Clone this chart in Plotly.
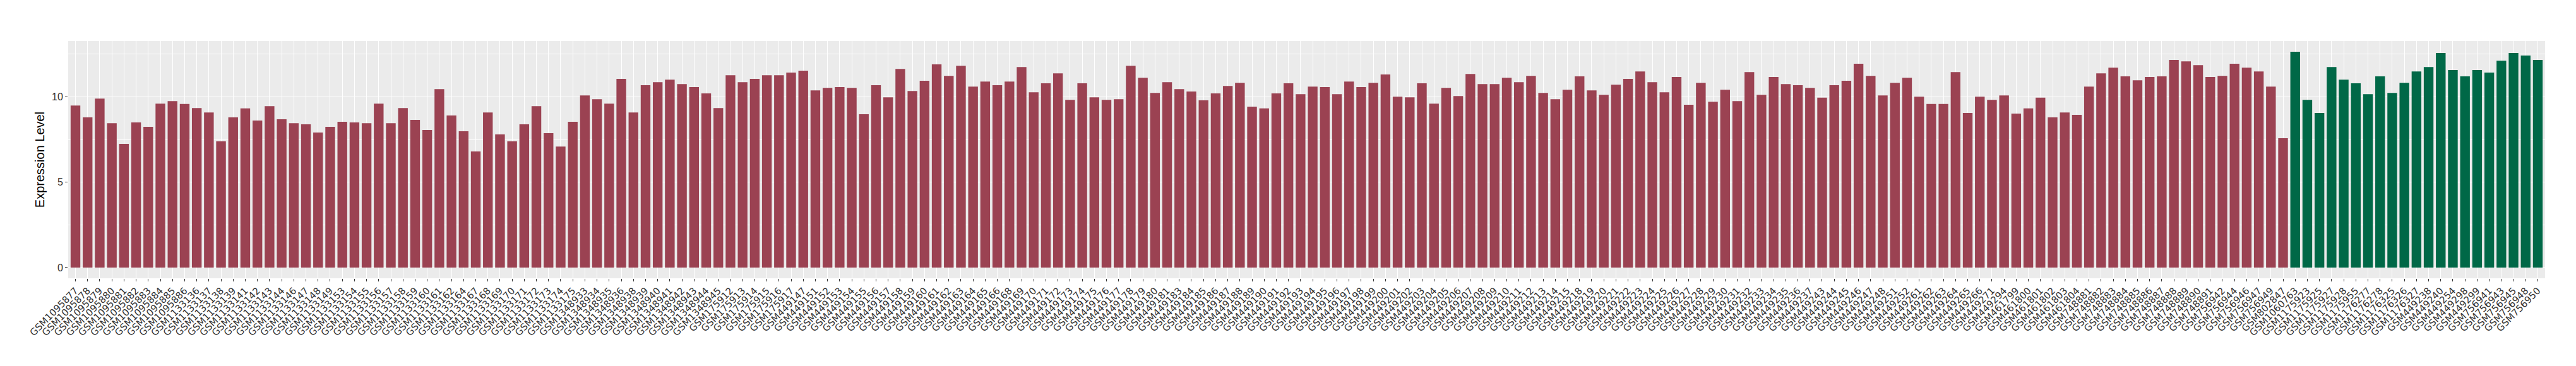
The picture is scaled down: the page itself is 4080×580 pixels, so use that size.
import plotly.graph_objects as go

# Sample IDs and expression levels
tumor_samples = [
    "GSM1095877", "GSM1095878", "GSM1095879", "GSM1095880", "GSM1095881",
    "GSM1095882", "GSM1095883", "GSM1095884", "GSM1095885", "GSM1095886",
    "GSM1133136", "GSM1133137", "GSM1133138", "GSM1133139", "GSM1133141",
    "GSM1133142", "GSM1133143", "GSM1133144", "GSM1133146", "GSM1133147",
    "GSM1133148", "GSM1133149", "GSM1133153", "GSM1133154", "GSM1133155",
    "GSM1133156", "GSM1133157", "GSM1133158", "GSM1133159", "GSM1133160",
    "GSM1133161", "GSM1133162", "GSM1133164", "GSM1133167", "GSM1133168",
    "GSM1133169", "GSM1133170", "GSM1133171", "GSM1133172", "GSM1133173",
    "GSM1133174", "GSM1133175",
    "GSM1348933", "GSM1348934", "GSM1348935", "GSM1348936", "GSM1348938",
    "GSM1348939", "GSM1348940", "GSM1348941", "GSM1348942", "GSM1348943",
    "GSM1348944", "GSM1348945",
    "GSM175912", "GSM175913", "GSM175914", "GSM175915", "GSM175916", "GSM175917",
    "GSM449147", "GSM449151", "GSM449152", "GSM449153", "GSM449154",
    "GSM449155", "GSM449156", "GSM449157", "GSM449158", "GSM449159",
    "GSM449160", "GSM449161", "GSM449162", "GSM449163", "GSM449164",
    "GSM449165", "GSM449166", "GSM449168", "GSM449169", "GSM449170",
    "GSM449171", "GSM449172", "GSM449173", "GSM449174", "GSM449175",
    "GSM449176", "GSM449177", "GSM449178", "GSM449179", "GSM449180",
    "GSM449181", "GSM449183", "GSM449184", "GSM449185", "GSM449186",
    "GSM449187", "GSM449188", "GSM449189", "GSM449190", "GSM449191",
    "GSM449192", "GSM449193", "GSM449194", "GSM449195", "GSM449196",
    "GSM449197", "GSM449198", "GSM449199", "GSM449200", "GSM449201",
    "GSM449202", "GSM449203", "GSM449204", "GSM449205", "GSM449206",
    "GSM449207", "GSM449208", "GSM449209", "GSM449210", "GSM449211",
    "GSM449212", "GSM449213", "GSM449214", "GSM449215", "GSM449218",
    "GSM449219", "GSM449220", "GSM449221", "GSM449222", "GSM449223",
    "GSM449224", "GSM449225", "GSM449226", "GSM449227", "GSM449228",
    "GSM449229", "GSM449230", "GSM449231", "GSM449232", "GSM449233",
    "GSM449234", "GSM449235", "GSM449236", "GSM449237", "GSM449243",
    "GSM449244", "GSM449245", "GSM449246", "GSM449247", "GSM449248",
    "GSM449251", "GSM449252", "GSM449261", "GSM449262", "GSM449263",
    "GSM449264", "GSM449265", "GSM449266", "GSM449271", "GSM449294",
    "GSM461799", "GSM461800", "GSM461801", "GSM461802", "GSM461803", "GSM461804",
    "GSM748881", "GSM748882", "GSM748883", "GSM748884", "GSM748885",
    "GSM748886", "GSM748887", "GSM748888", "GSM748889", "GSM748890", "GSM748891",
    "GSM756942", "GSM756944", "GSM756946", "GSM756947", "GSM756949",
    "GSM802847",
]

tumor_values = [
    9.49, 8.80, 9.90, 8.46, 7.24, 8.50, 8.24, 9.60, 9.75, 9.58,
    9.34, 9.08, 7.39, 8.80, 9.32, 8.61, 9.45, 8.69, 8.46, 8.39,
    7.91, 8.24, 8.54, 8.50, 8.46, 9.60, 8.46, 9.34, 8.65, 8.06,
    10.45, 8.91, 7.98, 6.80, 9.08, 7.80, 7.39, 8.39, 9.45, 7.87,
    7.09, 8.54,
    10.08, 9.86, 9.60, 11.05, 9.08, 10.68, 10.86, 11.01, 10.75, 10.57,
    10.20, 9.34,
    11.27, 10.86, 11.05, 11.27, 11.27, 11.42,
    11.53, 10.38, 10.53, 10.57, 10.53, 8.98, 10.68, 9.97, 11.64, 10.34,
    10.94, 11.90, 11.23, 11.82, 10.60, 10.90, 10.68, 10.90, 11.75, 10.27,
    10.79, 11.38, 9.82, 10.79, 9.97, 9.82, 9.86, 11.82, 11.12, 10.23,
    10.86, 10.45, 10.31, 9.80, 10.20, 10.64, 10.82, 9.43, 9.32, 10.20,
    10.79, 10.16, 10.60, 10.57, 10.16, 10.90, 10.57, 10.82, 11.31, 10.01,
    9.97, 10.79, 9.60, 10.53, 10.05, 11.34, 10.75, 10.75, 11.12, 10.86,
    11.23, 10.23, 9.86, 10.42, 11.20, 10.38, 10.12, 10.71, 11.05, 11.49,
    10.86, 10.27, 11.16, 9.54, 10.82, 9.71, 10.42, 9.75, 11.45, 10.12,
    11.16, 10.75, 10.68, 10.53, 9.95, 10.68, 10.94, 11.94, 11.23, 10.08,
    10.82, 11.12, 10.01, 9.58, 9.58, 11.45, 9.06, 10.01, 9.82, 10.08,
    9.02, 9.32, 9.95, 8.80, 9.08, 8.95,
    10.60, 11.38, 11.71, 11.20, 10.97, 11.16, 11.20, 12.16, 12.08, 11.86, 11.16,
    11.23, 11.94, 11.71, 11.49, 10.60,
    7.58,
]

normal_samples = [
    "GSM1060763", "GSM1175923", "GSM1175925", "GSM1175927", "GSM1175928",
    "GSM1175955", "GSM1176277", "GSM1176278", "GSM1176325", "GSM1176326",
    "GSM1176327", "GSM449238", "GSM449240", "GSM449254", "GSM449298",
    "GSM449299", "GSM756941", "GSM756943", "GSM756945", "GSM756948",
    "GSM756950",
]

normal_values = [
    12.64, 9.82, 9.06, 11.75, 11.01, 10.79, 10.16, 11.20, 10.23, 10.82,
    11.49, 11.75, 12.57, 11.57, 11.20, 11.57, 11.42, 12.12, 12.57, 12.42,
    12.16,
]

y_ticks = [0, 5, 10]

all_samples = tumor_samples + normal_samples
ymax = max(tumor_values + normal_values)
n = len(all_samples)

fig = go.Figure()

fig.add_trace(go.Bar(
    x=tumor_samples,
    y=tumor_values,
    marker=dict(color='#9B4252', line=dict(width=0)),
    showlegend=False
))

fig.add_trace(go.Bar(
    x=normal_samples,
    y=normal_values,
    marker=dict(color='#006847', line=dict(width=0)),
    showlegend=False
))

fig.update_layout(
    width=4080,
    height=580,
    barmode='overlay',
    bargap=0.2,
    paper_bgcolor='white',
    plot_bgcolor='#EBEBEB',
    margin=dict(l=100, r=57, t=57, b=147),
    font=dict(family='Liberation Sans, Arial, sans-serif', color='#4D4D4D'),
    xaxis=dict(
        type='category',
        categoryorder='array',
        categoryarray=all_samples,
        range=[-0.6, n - 0.4],
        tickangle=-45,
        tickfont=dict(family='DejaVu Sans', size=15, color='#333333'),
        ticks='outside',
        ticklen=4,
        tickwidth=1,
        tickcolor='#333333',
        showgrid=True,
        gridcolor='white',
        gridwidth=1.1,
        zeroline=False,
        showline=False,
        automargin=False,
    ),
    yaxis=dict(
        range=[-0.05 * ymax, 1.05 * ymax],
        tickvals=y_ticks,
        tickfont=dict(size=16, color='#333333'),
        ticks='outside',
        ticklen=4,
        tickwidth=1,
        tickcolor='#333333',
        showgrid=True,
        gridcolor='white',
        gridwidth=1.1,
        minor=dict(dtick=2.5, tick0=2.5, showgrid=True, gridcolor='white', gridwidth=0.5, ticks=''),
        zeroline=False,
        showline=False,
        automargin=False,
        title=dict(text='Expression Level', font=dict(size=20, color='black'), standoff=6),
    ),
)

fig.write_html("out.html")
